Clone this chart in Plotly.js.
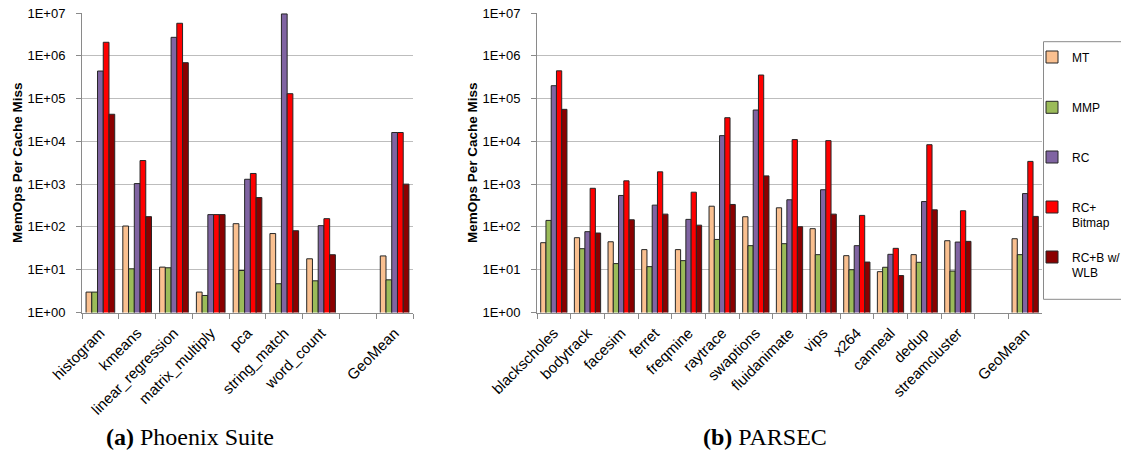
<!DOCTYPE html>
<html><head><meta charset="utf-8">
<script src="https://cdn.plot.ly/plotly-3.0.1.min.js"></script>
<style>html,body{margin:0;padding:0;background:#fff;overflow:hidden}</style>
</head><body>
<div id="chart" style="width:1121px;height:454px"></div>
<script>
// ---- data ----
var seriesNames = ['MT', 'MMP', 'RC', 'RC+<br>Bitmap', 'RC+B w/<br>WLB'];
var seriesColors = ['#FAC090', '#9BBB59', '#8064A2', '#FF0000', '#8B0000'];

var phoenixCats = ['histogram', 'kmeans', 'linear_regression', 'matrix_multiply', 'pca', 'string_match', 'word_count', ' ', 'GeoMean'];
var phoenixMT  = [3.0, 105, 11.5, 3.0, 119, 70, 18, null, 21];
var phoenixMMP = [3.0, 10.5, 11.1, 2.5, 9.6, 4.7, 5.5, null, 5.8];
var phoenixRC  = [440000, 1030, 2700000, 194, 1300, 9500000, 107, null, 16100];
var phoenixRCB = [2070000, 3560, 5750000, 194, 1775, 130000, 156, null, 16100];
var phoenixWLB = [43000, 174, 690000, 194, 486, 81.5, 22.4, null, 1000];

var parsecCats = ['blackscholes', 'bodytrack', 'facesim', 'ferret', 'freqmine', 'raytrace', 'swaptions', 'fluidanimate', 'vips', 'x264', 'canneal', 'dedup', 'streamcluster', ' ', 'GeoMean'];
var parsecMT  = [42.8, 56, 45, 29.5, 29.5, 305, 173, 280, 91, 21.3, 9, 22.5, 47.6, null, 53];
var parsecMMP = [142, 31, 13.9, 11.8, 16.3, 51, 36.5, 40.6, 22.5, 10, 11.4, 14.9, 9.3, null, 22.5];
var parsecRC  = [200000, 77.5, 544, 323, 150, 13600, 54000, 431, 740, 36.5, 22.9, 392, 44.3, null, 602];
var parsecRCB = [445000, 800, 1195, 1940, 648, 35700, 355000, 11000, 10400, 186, 31.6, 8350, 239, null, 3400];
var parsecWLB = [56000, 72, 147, 199, 110, 335, 1560, 101, 199, 15.1, 7.3, 251, 46, null, 176];

var yTickVals = [1, 10, 100, 1000, 10000, 100000, 1000000, 10000000];
var yTickText = ['1E+00', '1E+01', '1E+02', '1E+03', '1E+04', '1E+05', '1E+06', '1E+07'];
var yTitle = 'MemOps Per Cache Miss';
var captionA = '<b>(a)</b> Phoenix Suite';
var captionB = '<b>(b)</b> PARSEC';

// ---- build ----
var W = 1121, H = 454;
var phoenixSeries = [phoenixMT, phoenixMMP, phoenixRC, phoenixRCB, phoenixWLB];
var parsecSeries = [parsecMT, parsecMMP, parsecRC, parsecRCB, parsecWLB];
var legendIds = ['legend', 'legend2', 'legend3', 'legend4', 'legend5'];
var legendY = [56.7, 107, 156.7, 206.7, 256.7];
var FONT = 'Liberation Sans, Arial, sans-serif';

var traces = [];
for (var i = 0; i < seriesNames.length; i++) {
  traces.push({
    type: 'bar', x: phoenixCats, y: phoenixSeries[i], name: seriesNames[i],
    xaxis: 'x', yaxis: 'y', legend: legendIds[i], showlegend: true,
    marker: {color: seriesColors[i], line: {color: '#262626', width: 1}},
    hoverinfo: 'x+y+name'
  });
}
for (var j = 0; j < seriesNames.length; j++) {
  traces.push({
    type: 'bar', x: parsecCats, y: parsecSeries[j], name: seriesNames[j],
    xaxis: 'x2', yaxis: 'y2', showlegend: false,
    marker: {color: seriesColors[j], line: {color: '#262626', width: 1}},
    hoverinfo: 'x+y+name'
  });
}

function xAxis(domain, anchor, cats) {
  return {
    domain: domain, anchor: anchor, type: 'category',
    categoryorder: 'array', categoryarray: cats,
    range: [-0.5, cats.length - 0.5],
    tickangle: -45, tickfont: {family: FONT, size: 15, color: '#000'},
    showline: true, linecolor: '#8a8a8a', linewidth: 1,
    ticks: 'outside', tickson: 'boundaries', ticklen: 5, tickcolor: '#8a8a8a',
    showgrid: false, zeroline: false, fixedrange: true, automargin: false,
    ticklabelstandoff: 5
  };
}
function yAxis(domain, anchor) {
  return {
    domain: domain, anchor: anchor, type: 'log', range: [0, 7],
    tickmode: 'array', tickvals: yTickVals, ticktext: yTickText,
    tickfont: {family: FONT, size: 13, color: '#000'},
    showgrid: true, gridcolor: '#bdbdbd', gridwidth: 1,
    showline: true, linecolor: '#8a8a8a', linewidth: 1,
    ticks: 'outside', ticklen: 5, tickcolor: '#8a8a8a',
    fixedrange: true, automargin: false, ticklabelstandoff: 8,
    title: {text: '<b>' + yTitle + '</b>', font: {family: FONT, size: 13.5, color: '#000'}, standoff: 1}
  };
}

var yDom = [1 - 312.5 / H, 1 - 13 / H];
var layout = {
  width: W, height: H,
  margin: {l: 0, r: 0, t: 0, b: 0, autoexpand: false},
  paper_bgcolor: '#fff', plot_bgcolor: '#fff',
  barmode: 'group', bargap: 0.22, bargroupgap: 0,
  xaxis: xAxis([82 / W, 413 / W], 'y', phoenixCats),
  yaxis: yAxis(yDom, 'x'),
  xaxis2: xAxis([537 / W, 1042 / W], 'y2', parsecCats),
  yaxis2: yAxis(yDom, 'x2'),
  annotations: [
    {text: captionA, xref: 'paper', yref: 'paper', x: 190 / W, y: 1 - 437 / H, showarrow: false,
     xanchor: 'center', yanchor: 'middle', font: {family: 'Liberation Serif, Times New Roman, serif', size: 24, color: '#000'}},
    {text: captionB, xref: 'paper', yref: 'paper', x: 765 / W, y: 1 - 437 / H, showarrow: false,
     xanchor: 'center', yanchor: 'middle', font: {family: 'Liberation Serif, Times New Roman, serif', size: 24, color: '#000'}}
  ],
  shapes: [
    {type: 'rect', xref: 'paper', yref: 'paper', x0: 1043.5 / W, x1: 1130 / W, y0: 1 - 299.3 / H, y1: 1 - 41.7 / H,
     line: {color: '#8a8a8a', width: 1}, fillcolor: 'rgba(0,0,0,0)', layer: 'above'}
  ],
  hovermode: 'closest'
};
for (var k = 0; k < legendIds.length; k++) {
  layout[legendIds[k]] = {
    x: 1032 / W, y: 1 - (legendY[k] - 14) / H, xanchor: 'left', yanchor: 'top',
    bgcolor: 'rgba(0,0,0,0)', borderwidth: 0, valign: 'top',
    font: {family: FONT, size: 12, color: '#000'}
  };
}

Plotly.newPlot('chart', traces, layout, {displayModeBar: false, staticPlot: false});
</script></body></html>
